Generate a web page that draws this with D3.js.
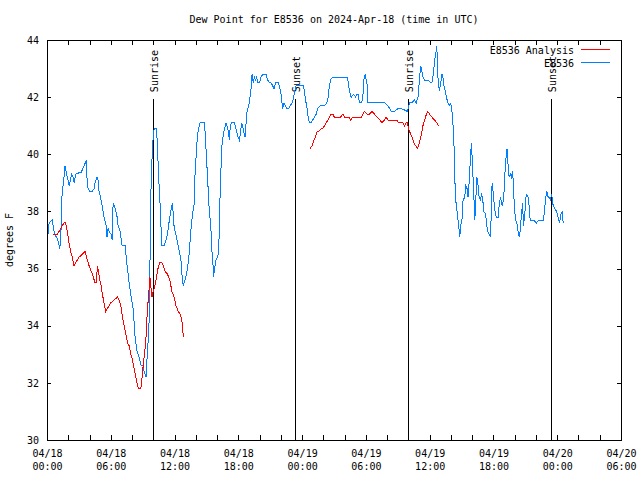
<!DOCTYPE html>
<html>
<head>
<meta charset="utf-8">
<script src="https://cdn.jsdelivr.net/npm/d3@7"></script>
<style>
  body { margin: 0; background: #fff; }
  text { font-family: "DejaVu Sans Mono", monospace; font-size: 10px; fill: #000; }
  .axis path, .axis line { stroke: #000; shape-rendering: crispEdges; }
</style>
</head>
<body>
<div class="container"></div>
<script>
// config
const config = {
  svg: { width: 640, height: 480 },
  margin: { top: 40, right: 19, bottom: 40, left: 47 },
  tickLength: 5,
  color: { analysis: '#ff0000', observed: '#0080ff', text: '#000' },
};

// data: [hours after 2024-04-18 00:00 UTC, degrees F]
const startTime = Date.UTC(2024, 3, 18, 0, 0);
const endTime = Date.UTC(2024, 3, 20, 6, 0);
const yTicks = [30, 32, 34, 36, 38, 40, 42, 44];

const observedPoints = [
  [0.1,37.2],[0.2,37.6],[0.5,37.7],[0.7,37.2],[0.9,37.1],[1.1,36.9],[1.2,36.7],[1.3,37.1],[1.4,38.5],[1.6,39.2],
  [1.7,39.6],[1.8,39.4],[1.9,39.2],[2.1,38.9],[2.3,39.3],[2.45,39.2],[2.55,39.0],[2.7,39.3],[3.0,39.35],[3.2,39.35],
  [3.5,39.6],[3.7,39.8],[3.77,39.1],[3.86,38.8],[4.05,38.7],[4.24,38.7],[4.43,38.8],[4.52,39.0],[4.71,39.2],[4.81,39.1],
  [4.9,38.7],[5.09,38.4],[5.18,38.2],[5.37,37.8],[5.56,37.5],[5.65,37.1],[5.75,37.4],[5.84,37.3],[6.03,37.2],[6.13,37.0],
  [6.22,38.3],[6.41,38.1],[6.6,37.8],[6.69,37.5],[6.88,37.3],[7.07,36.8],[7.35,36.8],[7.45,36.4],[7.54,36.1],[7.73,35.5],
  [7.92,35.0],[8.1,34.6],[8.2,34.1],[8.29,33.6],[8.39,33.3],[8.48,33.1],[8.67,32.9],[8.86,32.6],[9.05,32.6],[9.14,32.4],
  [9.33,32.2],[9.42,32.9],[9.52,33.5],[9.61,34.2],[9.71,36.8],[9.75,38.4],[9.92,40.3],[10.08,40.9],[10.3,40.9],[10.39,40.3],
  [10.49,39.3],[10.62,38.4],[10.71,37.7],[10.77,36.8],[11.03,36.8],[11.19,37.0],[11.34,37.2],[11.43,37.5],[11.56,37.8],[11.69,38.1],
  [11.81,38.3],[11.87,37.9],[11.97,37.4],[12.13,37.2],[12.28,36.9],[12.44,36.6],[12.6,36.3],[12.69,35.8],[12.82,35.4],[12.98,35.6],
  [13.13,35.8],[13.32,36.3],[13.45,36.9],[13.57,37.5],[13.69,37.9],[13.83,38.2],[13.88,38.9],[13.95,39.5],[14.04,40.0],[14.16,40.7],
  [14.32,41.0],[14.39,41.1],[14.8,41.1],[14.89,40.7],[15.01,39.8],[15.11,39.2],[15.2,38.4],[15.33,37.8],[15.43,37.3],[15.52,36.6],
  [15.64,36.0],[15.67,35.7],[15.77,36.0],[15.9,36.3],[16.05,36.4],[16.14,36.6],[16.21,37.3],[16.27,38.4],[16.37,39.5],[16.46,40.3],
  [16.59,40.7],[16.71,40.9],[16.84,41.1],[16.93,41.0],[17.06,40.8],[17.15,40.5],[17.25,41.0],[17.34,41.1],[17.62,41.1],[17.72,41.0],
  [17.84,40.8],[17.97,40.6],[18.09,40.5],[18.19,40.7],[18.31,41.1],[18.4,41.0],[18.5,40.8],[18.63,40.6],[18.73,41.1],[18.82,41.5],
  [18.97,41.7],[19.04,41.8],[19.13,42.1],[19.23,42.4],[19.29,42.8],[19.41,42.5],[19.51,42.7],[19.6,42.6],[19.73,42.7],[19.82,42.5],
  [19.98,42.5],[20.14,42.7],[20.29,42.8],[20.61,42.8],[20.76,42.6],[20.92,42.5],[21.08,42.5],[21.23,42.4],[21.36,42.3],[21.49,42.5],
  [21.65,42.5],[21.77,42.5],[21.86,42.4],[22.02,42.1],[22.17,41.6],[22.3,41.8],[22.43,41.7],[22.55,41.6],[22.74,41.6],[22.87,41.7],
  [23.06,41.8],[23.21,42.0],[23.3,42.2],[23.43,42.4],[23.75,42.4],[24.12,42.4],[24.22,42.2],[24.31,41.9],[24.44,41.7],[24.53,41.4],
  [24.69,41.1],[24.85,41.1],[25.0,41.2],[25.16,41.3],[25.32,41.4],[25.47,41.6],[25.7,41.7],[26.1,41.7],[26.32,41.8],[26.45,42.0],
  [26.57,42.4],[26.67,42.6],[26.88,42.7],[27.2,42.7],[27.52,42.7],[27.83,42.7],[28.15,42.7],[28.27,42.7],[28.37,42.4],[28.46,42.2],
  [28.62,42.0],[28.84,42.1],[29.03,42.0],[29.15,42.1],[29.28,42.1],[29.4,41.8],[29.6,41.8],[29.71,42.0],[29.81,42.6],[29.94,42.8],
  [30.03,42.6],[30.13,42.4],[30.19,41.8],[30.44,41.8],[30.66,41.8],[30.98,41.8],[31.19,41.8],[31.45,41.8],[31.76,41.8],[32.07,41.7],
  [32.39,41.5],[32.7,41.5],[33.01,41.6],[33.33,41.6],[33.64,41.55],[33.9,41.5],[34.11,41.8],[34.33,41.8],[34.58,41.9],[34.74,41.8],
  [34.9,42.0],[35.06,42.7],[35.15,43.1],[35.27,42.9],[35.37,42.7],[35.53,42.6],[35.84,42.6],[36.09,42.5],[36.21,42.5],[36.35,42.8],
  [36.47,43.3],[36.57,43.5],[36.66,43.8],[36.72,43.4],[36.78,42.7],[36.91,42.2],[37.04,42.5],[37.16,42.8],[37.25,42.7],[37.35,42.4],
  [37.48,42.2],[37.57,42.0],[37.72,41.8],[37.88,41.7],[37.98,41.8],[38.1,41.5],[38.2,41.0],[38.29,40.3],[38.36,39.2],[38.45,38.4],
  [38.61,37.9],[38.73,37.5],[38.83,37.1],[38.92,37.5],[39.04,37.7],[39.14,38.4],[39.3,38.5],[39.39,38.9],[39.52,38.8],[39.61,38.5],
  [39.71,39.0],[39.84,39.9],[39.93,40.4],[40.03,39.6],[40.15,38.6],[40.25,37.7],[40.34,38.4],[40.44,39.2],[40.56,38.9],[40.65,38.5],
  [40.78,38.4],[40.88,38.6],[40.97,38.5],[41.1,38.0],[41.26,37.9],[41.35,37.6],[41.45,37.3],[41.6,37.2],[41.72,37.1],[41.82,38.2],
  [41.87,39.0],[41.97,38.7],[42.06,38.3],[42.19,37.9],[42.29,37.8],[42.44,37.8],[42.53,38.2],[42.66,38.5],[42.75,38.3],[42.85,38.2],
  [42.97,38.5],[43.07,39.3],[43.19,39.9],[43.28,40.2],[43.38,39.6],[43.47,39.2],[43.6,39.3],[43.69,39.2],[43.79,39.4],[43.88,39.0],
  [43.94,38.4],[44.07,37.7],[44.2,37.6],[44.32,37.3],[44.42,37.1],[44.51,37.3],[44.64,37.9],[44.74,38.3],[44.83,37.5],[44.95,37.9],
  [45.05,38.5],[45.14,38.6],[45.26,38.5],[45.36,38.2],[45.45,37.7],[45.74,37.7],[46.05,37.6],[46.27,37.7],[46.46,37.7],[46.71,37.7],
  [46.84,38.2],[46.93,38.5],[47.02,38.7],[47.15,38.5],[47.24,38.5],[47.37,38.4],[47.47,38.6],[47.62,38.2],[47.78,38.1],[47.94,38.0],
  [48.09,37.8],[48.22,37.6],[48.35,37.9],[48.47,38.0],[48.56,37.6]
];

// analysis, null marks the gap between the two runs
const analysisPoints = [
  [0.6,37.2],[0.97,37.2],[1.29,37.4],[1.6,37.6],[1.76,37.6],[1.91,37.3],[2.07,36.9],[2.23,36.6],[2.38,36.4],[2.54,36.1],
  [2.7,36.2],[3.02,36.4],[3.33,36.5],[3.58,36.6],[3.8,36.3],[3.96,36.1],[4.27,35.8],[4.52,35.5],[4.65,35.5],[4.74,36.1],
  [4.84,35.9],[4.97,35.6],[5.09,35.4],[5.21,35.1],[5.37,34.8],[5.53,34.5],[5.68,34.6],[6.0,34.8],[6.31,34.9],[6.63,35.0],
  [6.79,34.9],[6.95,34.7],[7.1,34.3],[7.26,34.0],[7.42,33.7],[7.57,33.4],[7.73,33.3],[7.89,33.0],[8.04,32.8],[8.2,32.5],
  [8.36,32.2],[8.51,31.9],[8.6,31.8],[8.83,31.8],[8.92,32.1],[9.05,32.6],[9.17,33.0],[9.3,33.5],[9.45,34.6],[9.55,35.0],
  [9.68,35.7],[9.87,35.0],[9.99,35.2],[10.15,35.4],[10.3,35.7],[10.49,36.1],[10.62,36.2],[10.81,36.2],[10.93,36.1],[11.12,35.9],
  [11.34,35.8],[11.56,35.6],[11.75,35.2],[11.97,35.0],[12.13,34.7],[12.35,34.5],[12.53,34.4],[12.69,34.2],[12.75,33.9],[12.84,33.6],
  [18.0,null],
  [24.76,40.2],[24.94,40.3],[25.1,40.5],[25.26,40.6],[25.42,40.8],[25.57,40.8],[25.8,40.9],[25.95,40.9],[26.1,41.0],[26.26,41.1],
  [26.42,41.2],[26.57,41.3],[26.74,41.4],[26.89,41.4],[27.04,41.3],[27.26,41.3],[27.45,41.3],[27.61,41.3],[27.83,41.4],[27.99,41.3],
  [28.21,41.3],[28.39,41.3],[28.55,41.2],[28.77,41.3],[29.03,41.3],[29.24,41.3],[29.4,41.3],[29.56,41.3],[29.87,41.5],[30.13,41.4],
  [30.34,41.4],[30.56,41.5],[30.82,41.4],[31.07,41.3],[31.32,41.2],[31.5,41.1],[31.76,41.2],[31.92,41.3],[32.07,41.2],[32.23,41.2],
  [32.39,41.2],[32.54,41.2],[32.7,41.2],[32.89,41.2],[33.08,41.1],[33.26,41.1],[33.48,41.1],[33.64,41.0],[33.8,41.1],[33.9,41.1],
  [34.02,40.9],[34.21,40.7],[34.33,40.6],[34.52,40.4],[34.68,40.3],[34.84,40.2],[34.96,40.3],[35.09,40.5],[35.22,40.7],[35.37,41.0],
  [35.53,41.2],[35.69,41.4],[35.81,41.5],[36.0,41.4],[36.21,41.3],[36.47,41.2],[36.66,41.1],[36.85,41.0],[36.91,41.0]
];

// sun events
const eventNames = ['Sunrise', 'Sunset', 'Sunrise', 'Sunset'];
const eventHours = [9.95, 23.3, 33.95, 47.43];
const eventTop = 41.93;

const seriesNames = ['E8536 Analysis', 'E8536'];

const hourToDate = (h) => new Date(startTime + h * 3600 * 1000);

const width = config.svg.width - config.margin.left - config.margin.right;
const height = config.svg.height - config.margin.top - config.margin.bottom;

let svg = d3.select('.container')
  .append('svg')
  .attr('width', config.svg.width)
  .attr('height', config.svg.height);

let x = d3.scaleUtc()
  .domain([new Date(startTime), new Date(endTime)])
  .range([config.margin.left, config.margin.left + width]);

let y = d3.scaleLinear()
  .domain([30, 44])
  .range([config.margin.top + height, config.margin.top]);

// title
svg.append('text')
  .attr('x', config.margin.left + width / 2)
  .attr('y', 23)
  .attr('text-anchor', 'middle')
  .text('Dew Point for E8536 on 2024-Apr-18 (time in UTC)');

// y axis label
svg.append('text')
  .attr('transform', 'translate(13,' + (config.margin.top + height / 2) + ') rotate(-90)')
  .attr('text-anchor', 'middle')
  .text('degrees F');

// axes (frame + inward ticks)
const hourTicks = x.ticks(d3.utcHour.every(2));
const labelTicks = x.ticks(d3.utcHour.every(6));

svg.append('g')
  .attr('class', 'axis')
  .attr('transform', `translate(0,${config.margin.top + height})`)
  .call(d3.axisBottom(x).tickValues(hourTicks).tickSize(-config.tickLength).tickSizeOuter(0).tickFormat(''));

svg.append('g')
  .attr('class', 'axis')
  .attr('transform', `translate(0,${config.margin.top})`)
  .call(d3.axisTop(x).tickValues(hourTicks).tickSize(-config.tickLength).tickSizeOuter(0).tickFormat(''));

svg.append('g')
  .attr('class', 'axis')
  .attr('transform', `translate(${config.margin.left},0)`)
  .call(d3.axisLeft(y).tickValues(yTicks).tickSize(-4).tickSizeOuter(0).tickPadding(8).tickFormat(d3.format('d')))
  .call(g => g.selectAll('text').style('font-family', '"DejaVu Sans Mono", monospace').style('font-size', '10px'));

svg.append('g')
  .attr('class', 'axis')
  .attr('transform', `translate(${config.margin.left + width},0)`)
  .call(d3.axisRight(y).tickValues(yTicks).tickSize(-4).tickSizeOuter(0).tickFormat(''));

// two-line time labels
const fmtDay = d3.utcFormat('%m/%d');
const fmtTime = d3.utcFormat('%H:%M');
let xLabels = svg.append('g')
  .attr('class', 'axis')
  .attr('transform', `translate(0,${config.margin.top + height})`)
  .call(d3.axisBottom(x).tickValues(labelTicks).tickSize(0).tickFormat(''));
xLabels.select('.domain').remove();
xLabels.selectAll('.tick').each(function (d) {
  let t = d3.select(this).append('text')
    .attr('text-anchor', 'middle')
    .style('font-family', '"DejaVu Sans Mono", monospace')
    .style('font-size', '10px')
    .attr('fill', '#000');
  t.append('tspan').attr('x', 0).attr('y', 17).text(fmtDay(d));
  t.append('tspan').attr('x', 0).attr('y', 30).text(fmtTime(d));
});

// sun event lines
eventHours.forEach((h, i) => {
  let ex = Math.round(x(hourToDate(h))) + 0.5;
  svg.append('line')
    .attr('x1', ex).attr('x2', ex)
    .attr('y1', y(30)).attr('y2', y(eventTop))
    .attr('stroke', '#000')
    .style('shape-rendering', 'crispEdges');
  svg.append('text')
    .attr('transform', `translate(${ex + 4},${y(eventTop) - 7}) rotate(-90)`)
    .text(eventNames[i]);
});

// lines
let line = d3.line()
  .defined(d => d[1] !== null)
  .x(d => x(hourToDate(d[0])))
  .y(d => y(d[1]));

svg.append('path')
  .datum(observedPoints)
  .attr('d', line)
  .attr('fill', 'none')
  .attr('stroke', config.color.observed)
  .attr('stroke-width', 1)
  .style('shape-rendering', 'crispEdges');

svg.append('path')
  .datum(analysisPoints)
  .attr('d', line)
  .attr('fill', 'none')
  .attr('stroke', config.color.analysis)
  .attr('stroke-width', 1)
  .style('shape-rendering', 'crispEdges');

// legend
const legendColors = [config.color.analysis, config.color.observed];
seriesNames.forEach((name, i) => {
  let ly = 49.5 + i * 13;
  svg.append('text')
    .attr('x', 574)
    .attr('y', ly + 4)
    .attr('text-anchor', 'end')
    .text(name);
  svg.append('line')
    .attr('x1', 581).attr('x2', 610)
    .attr('y1', ly).attr('y2', ly)
    .attr('stroke', legendColors[i])
    .style('shape-rendering', 'crispEdges');
});
</script>
</body>
</html>
